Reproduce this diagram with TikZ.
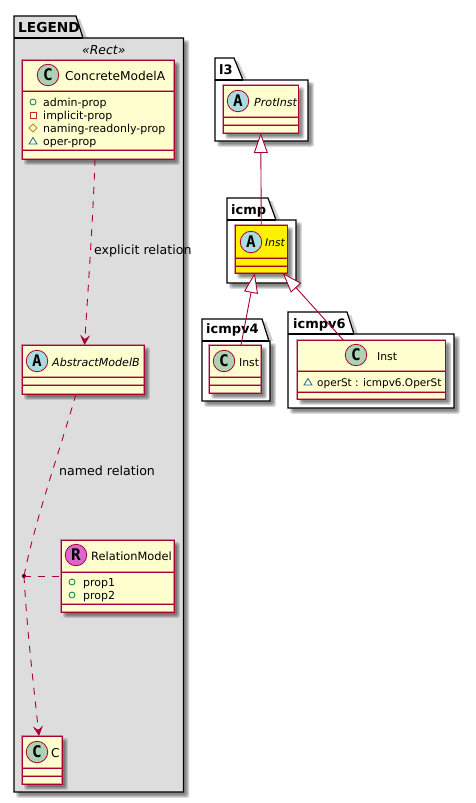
\documentclass[tikz,border=0pt]{standalone}
\usepackage{fontspec}
\setmainfont{DejaVu Sans}
\newfontfamily\badgefont{DejaVu Sans Mono}
\usetikzlibrary{arrows.meta,calc}
\definecolor{umlline}{HTML}{A80036}
\definecolor{umlfill}{HTML}{FEFECE}
\definecolor{ccirc}{HTML}{ADD1B2}
\definecolor{acirc}{HTML}{A9DCDF}
\definecolor{rcirc}{HTML}{DA66CF}
\definecolor{legendbg}{HTML}{DDDDDD}
\tikzset{
  umlclass/.style={rectangle,inner sep=0pt,outer sep=0pt},
  umlhalo/.style={draw=umlline,line width=1.9pt,opacity=.4},
  umlborder/.style={draw=umlline,line width=.95pt},
  pkgline/.style={draw=black,line width=1.2pt,line join=miter},
  badge/.style={circle,draw=umlline,line width=.8pt,minimum size=21.5pt,inner sep=0pt,font=\badgefont\fontsize{16}{16}\selectfont\bfseries},
  cname/.style={anchor=base west,inner sep=0pt,font=\fontsize{12.2}{14}\selectfont,text=black},
  iname/.style={anchor=base west,inner sep=0pt,font=\fontsize{11.1}{14}\selectfont\itshape,text=black},
  member/.style={anchor=base west,inner sep=0pt,font=\fontsize{11}{13}\selectfont,text=black},
  pkgname/.style={anchor=base west,inner sep=0pt,font=\fontsize{13}{15}\selectfont\bfseries,text=black},
  edgelabel/.style={anchor=base west,inner sep=0pt,font=\fontsize{12.6}{15}\selectfont,text=black},
  depend/.style={draw=umlline,line width=.9pt,dash pattern=on 7pt off 7pt},
  openhead/.style={-{Stealth[length=10pt,width=10pt,inset=4pt,fill=umlline]}},
  genline/.style={draw=umlline,line width=.9pt,-{Triangle[open,length=20pt,width=14pt,fill=white]}},
}
% soft shadow
\newcommand{\softshadow}[4]{%
  \foreach \e in {1.8,0.8,-0.2,-1.2}{%
    \fill[black,opacity=0.14,rounded corners=1.5pt] ({#1+4-\e},{#2+4-\e}) rectangle ({#3+4+\e},{#4+4+\e});
  }%
}
% name, x1,y1,x2,y2, fill
\newcommand{\umlbox}[6]{%
  \softshadow{#2}{#3}{#4}{#5}%
  \pgfmathsetmacro{\bw}{#4-#2}\pgfmathsetmacro{\bh}{#5-#3}%
  \node[umlclass,fill=#6,minimum width=\bw pt,minimum height=\bh pt] (#1) at ({(#2+#4)/2},{(#3+#5)/2}) {};
  \draw[umlhalo] (#1.south west) rectangle (#1.north east);
  \draw[umlborder] (#1.south west) rectangle (#1.north east);
}
\newcommand{\complines}[4]{% x1,x2,y1,y2
  \draw[umlhalo] (#1,#3) -- (#2,#3); \draw[umlhalo] (#1,#4) -- (#2,#4);
  \draw[umlborder] (#1,#3) -- (#2,#3); \draw[umlborder] (#1,#4) -- (#2,#4);
}
% x1 y1(tabtop) tabtopright-x tabbottom-x y2(bodytop) x2 y3(bottom) fill
\newcommand{\pkg}[8]{%
  \softshadow{#1}{#5}{#6}{#7}%
  \fill[black,opacity=0.2] ({#1+4},{#2+3}) -- ({#3+4},{#2+3}) -- ({#4+4},#5) -- cycle;
  \draw[pkgline,fill=#8] (#1,#5) -- (#1,#2) -- (#3,#2) -- (#4,#5) -- (#6,#5) -- (#6,#7) -- (#1,#7) -- cycle;
  \draw[pkgline] (#1,#5) -- (#4,#5);
}
\newcommand{\icocirc}[2]{\draw[draw={rgb,255:red,3;green,128;blue,72},line width=.8pt] (#1,#2) circle[radius=3];}
\newcommand{\icosq}[2]{\draw[draw={rgb,255:red,200;green,41;blue,48},line width=.8pt] ({#1-3},{#2-3}) rectangle ({#1+3},{#2+3});}
\newcommand{\icodia}[2]{\draw[draw={rgb,255:red,179;green,141;blue,34},line width=.8pt] ({#1-4},#2) -- (#1,{#2-4}) -- ({#1+4},#2) -- (#1,{#2+4}) -- cycle;}
\newcommand{\icotri}[2]{\draw[draw={rgb,255:red,25;green,99;blue,160},line width=.8pt] ({#1-4},{#2+3}) -- (#1,{#2-3.5}) -- ({#1+4},{#2+3}) -- cycle;}
\begin{document}
\begin{tikzpicture}[x=1pt,y=-1pt]
\useasboundingbox (0,0) rectangle (475,803);
\fill[white] (0,0) rectangle (475,803);

% packages
\pkg{14}{16}{76}{83}{38}{183.5}{792}{legendbg}
\pkg{215}{58}{234}{243}{80}{308}{141}{white}
\pkg{227}{198}{268}{276}{220}{296}{283}{white}
\pkg{202}{319}{262}{269}{341}{270}{401}{white}
\pkg{288}{312}{347}{354}{334}{454}{408}{white}
\node[pkgname,font=\fontsize{13.7}{15}\selectfont\bfseries] (pLegend) at (18,32) {LEGEND};
\node[anchor=base west,inner sep=0pt,font=\fontsize{12.4}{14}\selectfont\itshape] (pStereo) at (82,54) {«Rect»};
\node[pkgname] (pLthree) at (219,74) {l3};
\node[pkgname] (pIcmp) at (231,214) {icmp};
\node[pkgname] (pVfour) at (206,333) {icmpv4};
\node[pkgname] (pVsix) at (293,328) {icmpv6};

% ConcreteModelA
\umlbox{cma}{22}{60}{174}{159}{umlfill}
\complines{22}{174}{91}{150}
\node[badge,fill=ccirc] (cmaB) at (48,75) {C};
\node[cname] (cmaT) at (65,80) {ConcreteModelA};
\icocirc{33}{102}\node[member] (m1) at (43,106) {admin-prop};
\icosq{33}{115}\node[member] (m2) at (43,119) {implicit-prop};
\icodia{33}{128}\node[member] (m3) at (43,132) {naming-readonly-prop};
\icotri{33}{141}\node[member] (m4) at (43,145) {oper-prop};

% AbstractModelB
\umlbox{amb}{22}{345}{144}{394}{umlfill}
\complines{22}{144}{377}{385}
\node[badge,fill=acirc] (ambB) at (37,361) {A};
\node[iname] (ambT) at (52,366) {AbstractModelB};

% RelationModel
\umlbox{rm}{61}{540}{174}{612}{umlfill}
\complines{61}{174}{572}{604}
\node[badge,fill=rcirc] (rmB) at (76,555) {R};
\node[cname,font=\fontsize{11.4}{14}\selectfont] (rmT) at (91,560) {RelationModel};
\icocirc{72}{582}\node[member] (rp1) at (83,586) {prop1};
\icocirc{72}{595}\node[member] (rp2) at (83,599) {prop2};

% C
\umlbox{cc}{22}{736}{62}{784}{umlfill}
\complines{22}{62}{768}{776}
\node[badge,fill=ccirc] (ccB) at (37,752) {C};
\node[cname] (ccT) at (51,757) {C};

% ProtInst
\umlbox{prot}{223}{85}{298.5}{133}{umlfill}
\complines{223}{298.5}{117}{125}
\node[badge,fill=acirc] (protB) at (238,101) {A};
\node[iname] (protT) at (254,106) {ProtInst};

% icmp Inst
\umlbox{inst}{235}{225}{287.5}{273}{yellow}
\complines{235}{287.5}{258}{266}
\node[badge,fill=acirc] (instB) at (251,242) {A};
\node[iname,font=\fontsize{10.6}{13}\selectfont\itshape] (instT) at (265,246) {Inst};

% icmpv4 Inst
\umlbox{ifour}{209}{345}{261}{393}{umlfill}
\complines{209}{261}{377}{385}
\node[badge,fill=ccirc] (ifourB) at (224,361) {C};
\node[cname,font=\fontsize{10.8}{13}\selectfont] (ifourT) at (239,366) {Inst};

% icmpv6 Inst
\umlbox{isix}{297}{340}{445.5}{399}{umlfill}
\complines{297}{445.5}{371}{392}
\node[badge,fill=ccirc] (isixB) at (356,355) {C};
\node[cname,font=\fontsize{10.8}{13}\selectfont] (isixT) at (377,360) {Inst};
\icotri{308}{382}\node[member,font=\fontsize{10.5}{13}\selectfont] (opst) at (317,386) {operSt : icmpv6.OperSt};

% junction
\node[circle,fill=black,inner sep=0pt,minimum size=4pt] (jn) at (24,576) {};

% relations
\draw[depend,openhead] ([xshift=-3pt]cma.south) .. controls (93,220) and (88,290) .. ([xshift=1.5pt]amb.north);
\draw[depend] ([xshift=-7pt]amb.south) .. controls (60,450) and (35,520) .. (jn.center);
\draw[depend,openhead] (jn.center) .. controls (27,630) and (33,680) .. ([xshift=-3pt]cc.north);
\draw[depend] (jn.center) -- (jn.center -| rm.west);
\draw[genline] (inst.north) -- (prot.south);
\draw[genline] ([xshift=6pt]ifour.north) -- ([xshift=-6.5pt]inst.south);
\draw[genline] ([xshift=-28pt]isix.north) -- ([xshift=21.5pt]inst.south);

\node[edgelabel] (lblA) at (94,254) {explicit relation};
\node[edgelabel] (lblB) at (59,475) {named relation};
\end{tikzpicture}
\end{document}
